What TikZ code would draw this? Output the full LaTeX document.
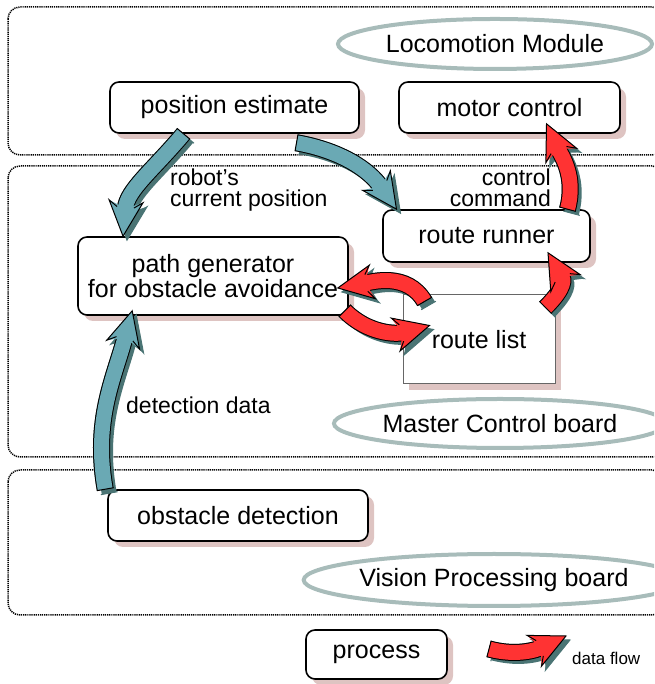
\documentclass[tikz,border=0pt]{standalone}
\usepackage{fontspec}
\setmainfont{Liberation Sans}
\usepackage{xcolor}
\usepackage{tikz}
\usetikzlibrary{shapes,arrows.meta,positioning,calc,shadows,decorations.markings}

\definecolor{flowteal}{RGB}{106,169,180}
\definecolor{flowred}{RGB}{255,51,51}
\definecolor{flowshadow}{RGB}{74,116,116}
\definecolor{procshadow}{RGB}{222,196,194}
\definecolor{boardgray}{RGB}{168,188,186}

\newcommand{\flowarrow}[2]{%
  \draw[flow={flowshadow}{flowshadow}, transform canvas={shift={(4pt,-4pt)}}] #2;
  \draw[flow={#1}{black}] #2;}

\begin{document}
\begin{tikzpicture}[x=1pt,y=1pt,
    module/.style={draw, line width=1.5pt, dash pattern=on 1.2pt off 0.9pt, rounded corners=12pt},
    board/.style={ellipse, draw=boardgray, line width=4pt, inner sep=0pt, font=\fontsize{25}{28}\selectfont},
    proc/.style={draw, line width=1.6pt, rounded corners=9pt, fill=white, inner sep=0pt, align=center,
      font=\fontsize{25}{22}\selectfont,
      drop shadow={shadow xshift=6pt, shadow yshift=-6pt, fill=procshadow, opacity=1}},
    store/.style={proc, sharp corners, draw=black!60, line width=1pt},
    lbl/.style={inner sep=0pt, font=\fontsize{23}{21}\selectfont},
    flow/.style 2 args={draw=#1, line width=15pt, shorten >=28pt,
      preaction={draw=#2, line width=17pt},
      postaction={decorate, decoration={markings,
        mark=at position 0 with {\draw[#2, line width=1pt, shorten >=0pt] (0pt,-8.5pt) -- (0pt,8.5pt);},
        mark=at position 0.9999 with {\fill[#1] (-31pt,-7.5pt) -- (-35pt,-17pt) -- (0pt,0pt) -- (-35pt,17pt) -- (-31pt,7.5pt) -- cycle;
          \draw[#2, line width=1pt, shorten >=0pt] (-29pt,-8.5pt) -- (-35pt,-17pt) -- (0pt,0pt) -- (-35pt,17pt) -- (-29pt,8.5pt);}}}}]
    \useasboundingbox (0,0) rectangle (654,684);
    \clip (0,0) rectangle (654,684);

    \draw[module] (8,677) rectangle (664,529);
    \draw[module] (8,518) rectangle (664,227);
    \draw[module] (8,214) rectangle (664,69);

    \node[board, minimum width=314pt, minimum height=50pt] (locolbl) at (495,640) {Locomotion Module};
    \node[board, minimum width=300pt, minimum height=49pt] (masterlbl) at (500,260.5) {Master Control board};
    \node[board, minimum width=316pt, minimum height=52pt] (visionlbl) at (494,104) {Vision Processing board};

    \node[proc, minimum width=249pt, minimum height=51pt] (posest) at (234.5,576.5) {position estimate};
    \node[proc, minimum width=221pt, minimum height=51pt] (motor) at (509.5,576.5) {motor control};
    \node[proc, minimum width=207pt, minimum height=52pt] (runner) at (486.5,448) {route runner};
    \node[proc, minimum width=270pt, minimum height=78pt] (pathgen) at (213,408) {path generator\\for obstacle avoidance};
    \node[store, minimum width=152pt, minimum height=89pt] (routelist) at (479,344.5) {route list};
    \node[proc, minimum width=260pt, minimum height=51pt] (obstdet) at (238,168.5) {obstacle detection};

    \node[lbl, anchor=west, align=left] (poslbl) at (170,494) {robot's\\current position};
    \node[lbl, anchor=east, align=right] (cmdlbl) at (551,496) {control\\command};
    \node[lbl, anchor=west] (detlbl) at (126,279) {detection data};

    \flowarrow{flowteal}{([xshift=-51pt]posest.south) to[out=230,in=85] ([xshift=-90pt]pathgen.north)}
    \flowarrow{flowteal}{([xshift=62pt,yshift=-9pt]posest.south) to[out=-10,in=125] ([xshift=-90pt]runner.north)}
    \flowarrow{flowteal}{([xshift=-2pt]obstdet.north west) to[out=100,in=-105] ([xshift=55pt,yshift=5pt]pathgen.south west)}
    \flowarrow{flowred}{([xshift=81pt]runner.north) to[out=75,in=-65] ([xshift=37pt,yshift=10pt]motor.south)}
    \flowarrow{flowred}{([xshift=-10pt,yshift=-13pt]routelist.north east) to[out=45,in=-60,looseness=1.4] ([xshift=61.5pt,yshift=10pt]runner.south)}
    \flowarrow{flowred}{([xshift=-4pt,yshift=5pt]pathgen.south east) to[out=-45,in=195] ([xshift=27pt,yshift=14pt]routelist.west)}
    \flowarrow{flowred}{([xshift=22pt,yshift=-7pt]routelist.north west) to[out=120,in=10] ([xshift=-11pt,yshift=-12pt]pathgen.east)}

    \node[proc, minimum width=141pt, minimum height=49pt] (process) at (376.5,29.5) {process};
    \coordinate (dfstart) at (489,35);
    \coordinate (dfend) at (566,48);
    \flowarrow{flowred}{(dfstart) to[out=-15,in=205] (dfend)}
    \node[inner sep=0pt, anchor=west, font=\fontsize{17}{17}\selectfont] (dflabel) at (572,26) {data flow};
\end{tikzpicture}
\end{document}
